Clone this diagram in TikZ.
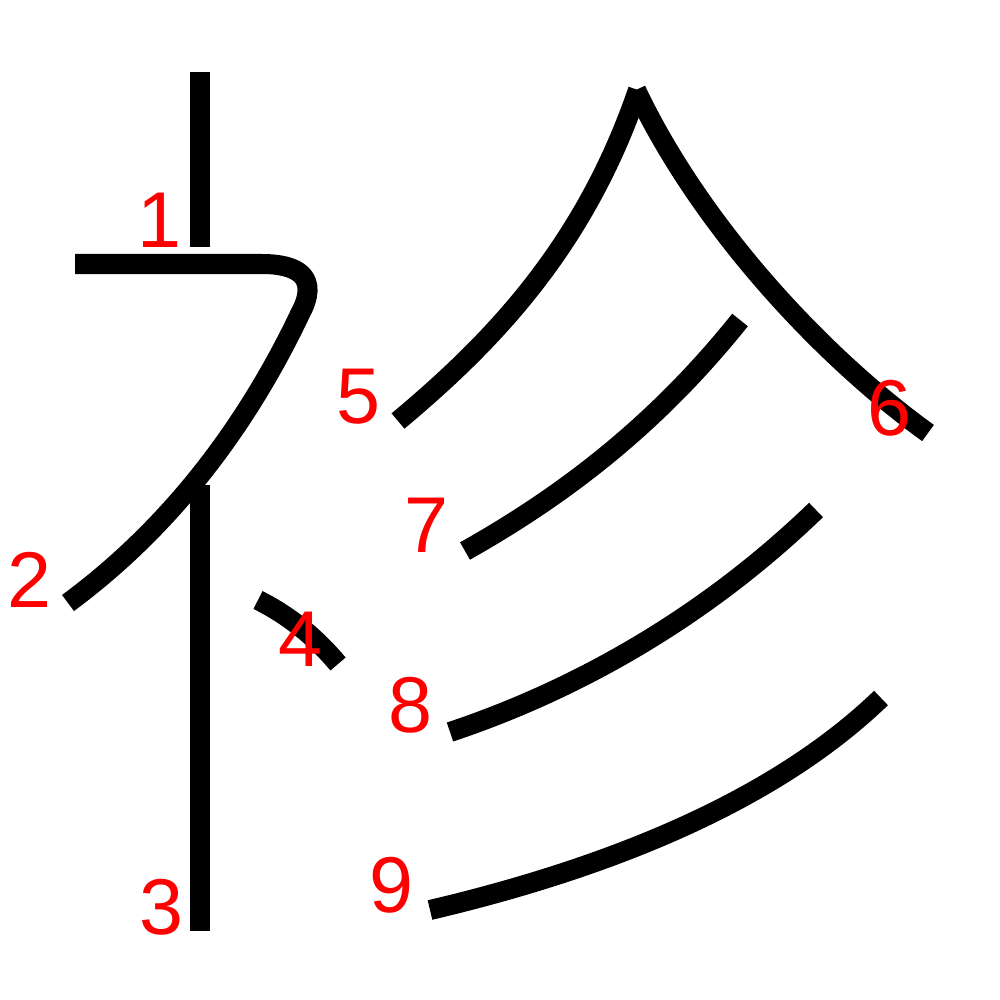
\documentclass[tikz,border=0pt]{standalone}
\usepackage{fontspec}
\setsansfont{Liberation Sans}
\usepackage{tikz}
\definecolor{numred}{RGB}{255,0,0}

\begin{document}
\begin{tikzpicture}[x=0.01cm,y=-0.01cm,
stroke/.style={line width=0.2cm,line cap=butt,line join=round},
num/.style={text=numred,font=\sffamily\fontsize{22.5}{24}\selectfont,inner sep=0pt}]
\useasboundingbox (0,0) rectangle (1000,1000);
% strokes
\draw[stroke] (200,72) -- (200,247);
\draw[stroke] (75,264) -- (262,264) .. controls (298,264) and (320,277) .. (300,314)
  .. controls (240,440) and (160,535) .. (68,603);
\draw[stroke] (200,485) -- (200,931);
\draw[stroke] (258,600) .. controls (292,617) and (318,640) .. (338,664);
\draw[stroke] (638,90) .. controls (585,245) and (495,340) .. (398,421);
\draw[stroke] (636,90) .. controls (700,225) and (820,355) .. (928,433);
\draw[stroke] (740,320) .. controls (660,420) and (570,492) .. (465,551);
\draw[stroke] (816,510) .. controls (700,622) and (570,692) .. (450,732);
\draw[stroke] (881,698) .. controls (770,805) and (600,870) .. (430,910);
% numbers
\node[num] (n1) at (160,220) {1};
\node[num] (n2) at (30,580) {2};
\node[num] (n3) at (161,907) {3};
\node[num] (n4) at (300,639) {4};
\node[num] (n5) at (358,397) {5};
\node[num] (n6) at (889,408) {6};
\node[num] (n7) at (426,525) {7};
\node[num] (n8) at (410,705) {8};
\node[num] (n9) at (391,885) {9};
\end{tikzpicture}
\end{document}
